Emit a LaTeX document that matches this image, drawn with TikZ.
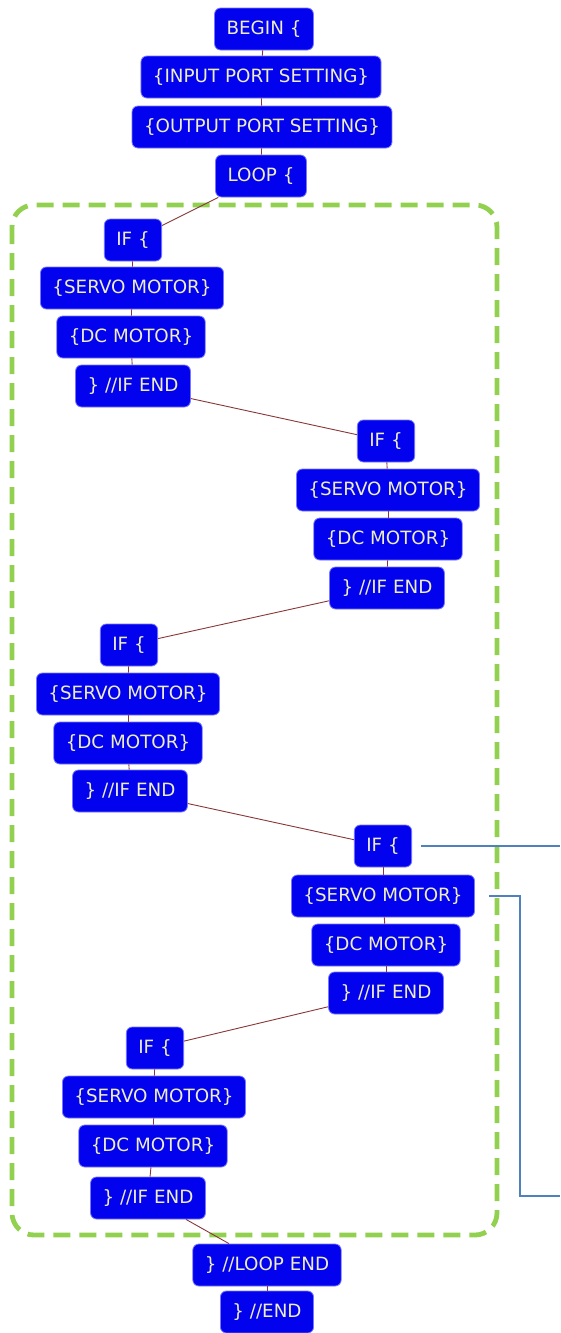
\documentclass[tikz,border=0pt]{standalone}
\usepackage{fontspec}
\setmainfont{DejaVu Sans}
\definecolor{boxblue}{RGB}{2,2,238}
\definecolor{boxedge}{RGB}{120,120,255}
\definecolor{txt}{RGB}{238,238,205}
\definecolor{linkc}{RGB}{135,55,55}
\definecolor{grn}{RGB}{146,208,80}
\definecolor{notec}{RGB}{79,129,189}
\tikzset{
  blk/.style={draw=boxedge, line width=0.8pt, fill=boxblue, rounded corners=6pt,
    text=txt, font=\fontsize{18.3}{21}\selectfont, inner xsep=12pt, inner ysep=0pt,
    minimum height=42pt},
  lk/.style={draw=linkc, line width=0.9pt},
  grp/.style={draw=grn, line width=4.8pt, dash pattern=on 17pt off 9pt, rounded corners=22pt},
  notel/.style={draw=notec, line width=1.8pt}
}
\begin{document}
\begin{tikzpicture}[x=1pt,y=-1pt]
\useasboundingbox (0,0) rectangle (560,1333);
\draw[grp] (12,205) rectangle (497,1235);

\node[blk] (b) at (264,29) {BEGIN \{};
\node[blk] (inp) at (261,77) {\{INPUT PORT SETTING\}};
\node[blk] (outp) at (262,127) {\{OUTPUT PORT SETTING\}};
\node[blk] (loop) at (261,176) {LOOP \{};

\node[blk] (i1) at (133,240) {IF \{};
\node[blk] (s1) at (132,288) {\{SERVO MOTOR\}};
\node[blk] (d1) at (131,337) {\{DC MOTOR\}};
\node[blk] (e1) at (133,386) {\} //IF END};

\node[blk] (i2) at (386,441) {IF \{};
\node[blk] (s2) at (388,490) {\{SERVO MOTOR\}};
\node[blk] (d2) at (388,539) {\{DC MOTOR\}};
\node[blk] (e2) at (387,588) {\} //IF END};

\node[blk] (i3) at (129,645) {IF \{};
\node[blk] (s3) at (128,694) {\{SERVO MOTOR\}};
\node[blk] (d3) at (128,743) {\{DC MOTOR\}};
\node[blk] (e3) at (130,791) {\} //IF END};

\node[blk] (i4) at (383,846) {IF \{};
\node[blk] (s4) at (383,896) {\{SERVO MOTOR\}};
\node[blk] (d4) at (386,945) {\{DC MOTOR\}};
\node[blk] (e4) at (386,993) {\} //IF END};

\node[blk] (i5) at (155,1048) {IF \{};
\node[blk] (s5) at (154,1097) {\{SERVO MOTOR\}};
\node[blk] (d5) at (153,1146) {\{DC MOTOR\}};
\node[blk] (e5) at (148,1198) {\} //IF END};

\node[blk] (le) at (267,1265) {\} //LOOP END};
\node[blk] (en) at (267,1312) {\} //END};

\draw[lk] (b) -- (inp);
\draw[lk] (inp) -- (outp);
\draw[lk] (outp) -- (loop);
\draw[lk] (loop) -- (i1);
\draw[lk] (i1) -- (s1);
\draw[lk] (s1) -- (d1);
\draw[lk] (d1) -- (e1);
\draw[lk] (e1) -- (i2);
\draw[lk] (i2) -- (s2);
\draw[lk] (s2) -- (d2);
\draw[lk] (d2) -- (e2);
\draw[lk] (e2) -- (i3);
\draw[lk] (i3) -- (s3);
\draw[lk] (s3) -- (d3);
\draw[lk] (d3) -- (e3);
\draw[lk] (e3) -- (i4);
\draw[lk] (i4) -- (s4);
\draw[lk] (s4) -- (d4);
\draw[lk] (d4) -- (e4);
\draw[lk] (e4) -- (i5);
\draw[lk] (i5) -- (s5);
\draw[lk] (s5) -- (d5);
\draw[lk] (d5) -- (e5);
\draw[lk] (e5) -- (le);
\draw[lk] (le) -- (en);

\coordinate (n1) at (560,846);
\coordinate (n2a) at (520,896);
\coordinate (n2b) at (520,1196);
\coordinate (n2c) at (560,1196);
\draw[notel] ([xshift=9pt]i4.east) -- (n1);
\draw[notel] ([xshift=14pt]s4.east) -- (n2a) -- (n2b) -- (n2c);
\end{tikzpicture}
\end{document}
